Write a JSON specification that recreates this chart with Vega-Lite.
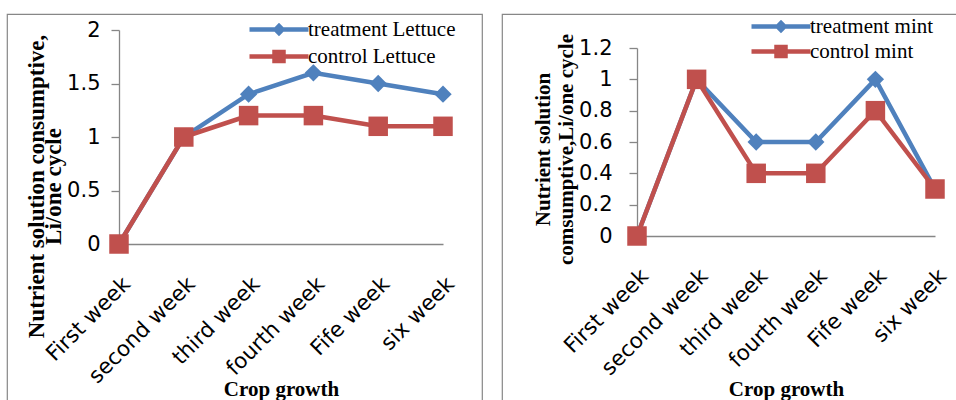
{
  "$schema": "https://vega.github.io/schema/vega-lite/v6.json",
  "background": "white",
  "padding": {"left": 6, "top": 13, "right": 0, "bottom": 0},
  "spacing": 18,
  "config": {
    "view": {"stroke": "#878787", "strokeWidth": 1.2},
    "axis": {
      "grid": false,
      "domainColor": "#868686",
      "domainWidth": 1.3,
      "tickColor": "#868686",
      "tickWidth": 1.3,
      "labelColor": "#000000",
      "labelFont": "DejaVu Sans",
      "labelFontSize": 21,
      "titleColor": "#000000",
      "titleFont": "Liberation Serif",
      "titleFontWeight": "bold",
      "titleFontSize": 21
    },
    "axisX": {"labelFontSize": 21.5},
    "legend": {
      "labelFont": "Liberation Serif",
      "labelFontSize": 21,
      "labelColor": "#000000",
      "labelOffset": -3,
      "symbolSize": 400,
      "symbolStrokeWidth": 4.5,
      "padding": 0,
      "title": null
    }
  },
  "hconcat": [
    {
      "width": 475,
      "height": 400,
      "data": {
        "values": [
          {"week": "First week", "series": "treatment Lettuce", "value": 0},
          {"week": "second week", "series": "treatment Lettuce", "value": 1},
          {"week": "third week", "series": "treatment Lettuce", "value": 1.4},
          {"week": "fourth week", "series": "treatment Lettuce", "value": 1.6},
          {"week": "Fife week", "series": "treatment Lettuce", "value": 1.5},
          {"week": "six week", "series": "treatment Lettuce", "value": 1.4},
          {"week": "First week", "series": "control Lettuce", "value": 0},
          {"week": "second week", "series": "control Lettuce", "value": 1},
          {"week": "third week", "series": "control Lettuce", "value": 1.2},
          {"week": "fourth week", "series": "control Lettuce", "value": 1.2},
          {"week": "Fife week", "series": "control Lettuce", "value": 1.1},
          {"week": "six week", "series": "control Lettuce", "value": 1.1}
        ]
      },
      "encoding": {
        "x": {
          "field": "week",
          "type": "ordinal",
          "sort": ["First week", "second week", "third week", "fourth week", "Fife week", "six week"],
          "scale": {"type": "point", "padding": 0, "range": [112, 436]},
          "axis": {
            "offset": -170,
            "labelAngle": -45,
            "labelAlign": "right",
            "labelBaseline": "top",
            "labelPadding": 29,
            "ticks": false,
            "title": "Crop growth",
            "titleY": 151,
            "titleBaseline": "alphabetic"
          }
        },
        "y": {
          "field": "value",
          "type": "quantitative",
          "scale": {"domain": [0, 2], "range": [230, 16], "nice": false, "zero": false},
          "axis": {
            "offset": -112,
            "values": [0, 0.5, 1, 1.5, 2],
            "format": "~g",
            "tickSize": 8,
            "labelPadding": 11,
            "title": ["Nutrient solution consumptive,", "Li/one cycle"],
            "titleAngle": -90,
            "titleAlign": "center",
            "titleBaseline": "middle",
            "titleFontSize": 23,
            "titleLineHeight": 17,
            "titleX": -83,
            "titleY": 172
          }
        },
        "color": {
          "field": "series",
          "type": "nominal",
          "scale": {"domain": ["treatment Lettuce", "control Lettuce"], "range": ["#4f81bd", "#c0504d"]},
          "legend": {
            "orient": "none",
            "legendX": 279,
            "legendY": 3,
            "rowPadding": 1,
            "encode": {
              "symbols": {
                "update": {
                  "shape": {"signal": "datum.value === 'treatment Lettuce' ? 'M-4.9,0H1M-2.3,0L-1.95,-0.35L-1.6,0L-1.95,0.35Z' : 'M-4.9,0H1M-2.4,-0.45H-1.5V0.45H-2.4Z'"},
                  "fill": {"signal": "datum.value === 'treatment Lettuce' ? '#4f81bd' : '#c0504d'"},
                  "stroke": {"signal": "datum.value === 'treatment Lettuce' ? '#4f81bd' : '#c0504d'"},
                  "strokeWidth": {"value": 4.5},
                  "opacity": {"value": 1}
                }
              }
            }
          }
        }
      },
      "layer": [
        {"mark": {"type": "line", "strokeWidth": 4.5}},
        {
          "transform": [{"filter": "datum.series === 'treatment Lettuce'"}],
          "mark": {"type": "point", "shape": "diamond", "filled": true, "opacity": 1, "size": 300}
        },
        {
          "transform": [{"filter": "datum.series === 'control Lettuce'"}],
          "mark": {"type": "point", "shape": "square", "filled": true, "opacity": 1, "size": 380}
        }
      ]
    },
    {
      "width": 460,
      "height": 400,
      "data": {
        "values": [
          {"week": "First week", "series": "treatment mint", "value": 0},
          {"week": "second week", "series": "treatment mint", "value": 1},
          {"week": "third week", "series": "treatment mint", "value": 0.6},
          {"week": "fourth week", "series": "treatment mint", "value": 0.6},
          {"week": "Fife week", "series": "treatment mint", "value": 1},
          {"week": "six week", "series": "treatment mint", "value": 0.3},
          {"week": "First week", "series": "control mint", "value": 0},
          {"week": "second week", "series": "control mint", "value": 1},
          {"week": "third week", "series": "control mint", "value": 0.4},
          {"week": "fourth week", "series": "control mint", "value": 0.4},
          {"week": "Fife week", "series": "control mint", "value": 0.8},
          {"week": "six week", "series": "control mint", "value": 0.3}
        ]
      },
      "encoding": {
        "x": {
          "field": "week",
          "type": "ordinal",
          "sort": ["First week", "second week", "third week", "fourth week", "Fife week", "six week"],
          "scale": {"type": "point", "padding": 0, "range": [135, 433]},
          "axis": {
            "offset": -178,
            "labelAngle": -45,
            "labelAlign": "right",
            "labelBaseline": "top",
            "labelPadding": 29,
            "ticks": false,
            "title": "Crop growth",
            "titleY": 159,
            "titleBaseline": "alphabetic"
          }
        },
        "y": {
          "field": "value",
          "type": "quantitative",
          "scale": {"domain": [0, 1.2], "range": [222, 34], "nice": false, "zero": false},
          "axis": {
            "offset": -135,
            "values": [0, 0.2, 0.4, 0.6, 0.8, 1, 1.2],
            "format": "~g",
            "tickSize": 8,
            "labelPadding": 17,
            "title": ["Nutrient solution", "comsumptive,Li/one cycle"],
            "titleAngle": -90,
            "titleAlign": "center",
            "titleBaseline": "middle",
            "titleLineHeight": 23,
            "titleX": -94,
            "titleY": 135
          }
        },
        "color": {
          "field": "series",
          "type": "nominal",
          "scale": {"domain": ["treatment mint", "control mint"], "range": ["#4f81bd", "#c0504d"]},
          "legend": {
            "orient": "none",
            "legendX": 286,
            "legendY": 0,
            "rowPadding": -2,
            "encode": {
              "symbols": {
                "update": {
                  "shape": {"signal": "datum.value === 'treatment mint' ? 'M-4.9,0H1M-2.3,0L-1.95,-0.35L-1.6,0L-1.95,0.35Z' : 'M-4.9,0H1M-2.4,-0.45H-1.5V0.45H-2.4Z'"},
                  "fill": {"signal": "datum.value === 'treatment mint' ? '#4f81bd' : '#c0504d'"},
                  "stroke": {"signal": "datum.value === 'treatment mint' ? '#4f81bd' : '#c0504d'"},
                  "strokeWidth": {"value": 4.5},
                  "opacity": {"value": 1}
                }
              }
            }
          }
        }
      },
      "layer": [
        {"mark": {"type": "line", "strokeWidth": 4.5}},
        {
          "transform": [{"filter": "datum.series === 'treatment mint'"}],
          "mark": {"type": "point", "shape": "diamond", "filled": true, "opacity": 1, "size": 300}
        },
        {
          "transform": [{"filter": "datum.series === 'control mint'"}],
          "mark": {"type": "point", "shape": "square", "filled": true, "opacity": 1, "size": 380}
        }
      ]
    }
  ],
  "resolve": {"scale": {"color": "independent", "x": "independent", "y": "independent"}}
}
